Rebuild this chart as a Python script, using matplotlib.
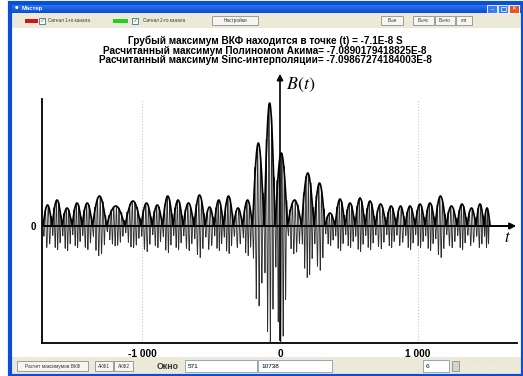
import numpy as np
import matplotlib.pyplot as plt
from matplotlib.patches import Rectangle
from matplotlib.colors import LinearSegmentedColormap

## data (t in 10^-9 s, B in arbitrary units)

lobe_t = [-1688, -1616, -1543, -1471, -1399, -1319, -1196, -1051, -964, -891,
          -812, -739, -667, -580, -507, -449, -370, -304, -239, -159,
          -71, 0, 109, 203, 290, 362, 435, 507, 580, 652,
          725, 812, 870, 942, 1014, 1087, 1159, 1246, 1319, 1391,
          1449, 1507]
lobe_top = [21, 26, 18, 23, 23, 30, 20, 25, 23, 21,
            30, 26, 23, 31, 19, 26, 30, 18, 26, 83,
            123, 73, 26, 53, 43, 13, 27, 23, 28, 25,
            22, 20, 20, 20, 22, 23, 30, 20, 22, 18,
            22, 18]
lobe_bot = [22, 24, 25, 22, 24, 30, 20, 22, 26, 22,
            27, 24, 25, 32, 24, 25, 28, 22, 30, 81,
            118, 118, 28, 52, 45, 20, 25, 22, 26, 24,
            23, 22, 20, 24, 22, 25, 32, 22, 24, 20,
            22, 22]
t_first, t_last = -1717, 1522

xticks = [-1000, 0, 1000]
xtick_labels = ['-1 000', '0', '1 000']

title_lines = ['Грубый максимум ВКФ находится в точке (t) = -7.1E-8 S',
               'Расчитанный максимум Полиномом Акима= -7.0890179418825E-8',
               'Расчитанный максимум Sinc-интерполяции= -7.09867274184003E-8']

## figure + window chrome (pixel coords)

plt.rcParams['font.family'] = ['Liberation Sans', 'DejaVu Sans']
plt.rcParams['mathtext.fontset'] = 'stix'

W, H = 523, 376
fig = plt.figure(figsize=(W / 100, H / 100), dpi=100)
bg = fig.add_axes([0, 0, 1, 1])
bg.set_xlim(0, W)
bg.set_ylim(H, 0)
bg.axis('off')

xp_blue = '#0B4FD6'
gray = '#ECE9D8'

def rect(x, y, w, h, fc, ec='none', lw=0.6, z=1):
    bg.add_patch(Rectangle((x, y), w, h, fc=fc, ec=ec, lw=lw, zorder=z))

def button(x, y, w, h, txt, fs=3.4):
    rect(x, y, w, h, '#F6F5F0', '#8E8F8F', 0.6, 3)
    bg.text(x + w / 2, y + h / 2 + 0.3, txt, fontsize=fs, ha='center', va='center',
            color='#333333', zorder=4)

def textbox(x, y, w, h, txt):
    rect(x, y, w, h, 'white', '#7F9DB9', 0.6, 3)
    bg.text(x + 3, y + h / 2 + 0.3, txt, fontsize=4.6, ha='left', va='center', zorder=4)

def checkbox(x, y):
    rect(x, y, 6, 6, 'white', '#1C5180', 0.5, 3)
    bg.text(x + 3, y + 3.2, '✓', fontsize=4.5, color='#21A121', ha='center', va='center',
            zorder=4, fontweight='bold', family='DejaVu Sans')

# white page + window body
rect(10, 3, W - 10, H - 3, 'white', z=0)
rect(10, 3, W - 10, H - 3, 'none', xp_blue, 3.0, 6)

# title bar gradient
grad = np.linspace(0, 1, 30).reshape(-1, 1)
bg.imshow(grad, extent=(10, W, 13, 3),
          cmap=LinearSegmentedColormap.from_list('tb', ['#3D8AF7', '#1F64E0', '#0A4FD0']),
          aspect='auto', zorder=5)
bg.text(15, 8, '●', fontsize=3, color='white', va='center', zorder=6, family='DejaVu Sans')
bg.text(22, 8.3, 'Мастер', fontsize=4.2, color='white', va='center', fontweight='bold', zorder=6)
for x0, fc in [(487, '#3C7BEA'), (498, '#3C7BEA'), (509, '#E0562E')]:
    rect(x0, 4.5, 10, 8, fc, 'white', 0.6, 7)
bg.text(514, 8.6, '✕', fontsize=4, color='white', ha='center', va='center', zorder=8,
        family='DejaVu Sans')
bg.text(492, 10, '_', fontsize=4, color='white', ha='center', va='bottom', zorder=8)
rect(500.5, 6.5, 5, 4, 'none', 'white', 0.5, 8)

# toolbar
rect(12, 13, W - 14, 15, gray, z=2)
rect(25, 18.5, 13, 4, '#D41414', z=3)
checkbox(39, 17.5)
bg.text(48, 20.5, 'Сигнал 1-го канала', fontsize=3.3, va='center', color='#333333', zorder=4)
rect(113, 18.5, 15, 4, '#1ED21E', z=3)
checkbox(132, 17.5)
bg.text(143, 20.5, 'Сигнал 2-го канала', fontsize=3.3, va='center', color='#333333', zorder=4)
button(212, 16, 46, 9, 'Настройки')
button(381, 16, 22, 9, 'Вын')
button(413, 16, 21, 9, 'Вычс')
button(435, 16, 20, 9, 'Вычо')
button(456, 16, 16, 9, 'cnt')

# status bar
rect(12, 357, W - 14, 17, gray, z=2)
button(17, 361, 71, 10, 'Расчет максимумов ВКФ')
button(95, 361, 18, 10, 'АКФ1')
button(114, 361, 19, 10, 'АКФ2')
bg.text(157, 366.5, 'Окно', fontsize=6.3, va='center', fontweight='bold', color='#333333', zorder=4)
textbox(185, 360, 72, 12, '571')
textbox(258, 360, 74, 12, '10738')
textbox(423, 360, 26, 12, '6')
rect(452, 361, 7, 10, '#D6D3C8', '#7F7F7F', 0.5, 3)
bg.text(469, 366.5, "10^-9, сек.", fontsize=4.5, va='center', color='#F4F2EA', zorder=4)

# header text
for i, line in enumerate(title_lines):
    bg.text(265, 41 + i * 9.7, line, fontsize=7.2, ha='center', va='center',
            fontweight='bold', zorder=4)

## plot area

x_l, x_r, y_t, y_b = 41.5, 517, 99, 343
ax = fig.add_axes([x_l / W, 1 - y_b / H, (x_r - x_l) / W, (y_b - y_t) / H])
ax.patch.set_alpha(0)
ax.set_zorder(5)
px_t = 1000 / 138.0
ax.set_xlim((x_l - 280) * px_t, (x_r - 280) * px_t)
ax.set_ylim(-(y_b - 226), 226 - y_t)

# signal: carrier drawn inside each lobe of the measured envelope
bounds = [t_first] + [(a + b) / 2 for a, b in zip(lobe_t[:-1], lobe_t[1:])] + [t_last]
period = 19.0
for i in range(len(lobe_t)):
    a, b = bounds[i], bounds[i + 1]
    n = max(3, int(round((b - a) / period)))
    tt = np.linspace(a, b, n * 40)
    arc = np.sin(np.pi * (tt - a) / (b - a))
    car = np.cos(2 * np.pi * n * (tt - a) / (b - a) + np.pi / 2)
    yy = np.where(car > 0, lobe_top[i], lobe_bot[i]) * arc ** 0.6 * car
    ax.plot(tt, yy, color='#2E2E2E', lw=0.6, clip_on=False, zorder=3)
    ax.plot(tt, lobe_top[i] * arc, color='black', lw=1.2, clip_on=False, zorder=4)

# grid
for t in [-1000, 1000]:
    ax.axvline(t, color='#C8C8C8', lw=0.8, ls=':', zorder=1)

# axes arrows
ax.annotate('', xy=((519 - 280) * px_t, 0), xytext=((x_l - 280) * px_t, 0),
            arrowprops=dict(arrowstyle='-|>', lw=1.4, color='black', mutation_scale=9),
            annotation_clip=False, zorder=6)
ax.annotate('', xy=(0, 226 - 71), xytext=(0, -(y_b - 226)),
            arrowprops=dict(arrowstyle='-|>', lw=1.2, color='black', mutation_scale=9),
            annotation_clip=False, zorder=6)
ax.text(6 * px_t, 226 - 85, r'$B(t)$', fontsize=13, va='center', ha='left')
ax.text((507 - 280) * px_t, 226 - 238, r'$t$', fontsize=12, va='center', ha='center')

for s in ['top', 'right']:
    ax.spines[s].set_visible(False)
for s in ['left', 'bottom']:
    ax.spines[s].set_linewidth(1.3)
ax.set_xticks(xticks)
ax.set_xticklabels(xtick_labels, fontweight='bold', fontsize=7.3)
ax.set_yticks([0])
ax.set_yticklabels(['0'], fontweight='bold', fontsize=7)
ax.tick_params(length=0, pad=4)

fig.savefig('out.png', dpi=100)
